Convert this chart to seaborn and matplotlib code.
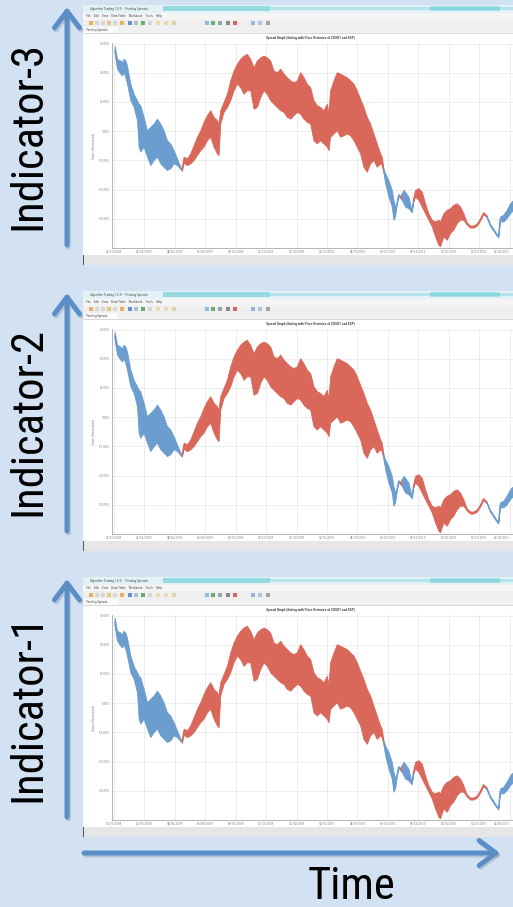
import matplotlib
matplotlib.use("Agg")
import matplotlib.pyplot as plt
from matplotlib.patches import Rectangle, FancyArrowPatch
import numpy as np
import seaborn as sns

W, H = 513, 907
BG = "#d3e2f2"
ARROW = "#5b8ec7"
COLORS = {"R": "#d9685a", "B": "#6b9dcf"}

PANEL_LABELS = ["Indicator-3", "Indicator-2", "Indicator-1"]
PANEL_OFFSETS = [0, 286, 572]

# spread band (days, % of normalized value)
DAY = [1.5, 5, 10, 12.5, 15, 17.5, 20, 25, 30, 35, 37.5, 40, 45, 50, 55, 60, 65, 70, 75, 80, 85, 90, 95, 100,
       102.5, 105, 110, 115, 120, 125, 130, 135, 140, 145, 150, 155, 157.5, 160, 165, 170, 175, 180, 185, 190,
       195, 200, 205, 210, 215, 220, 225, 230, 235, 240, 245, 250, 255, 260, 265, 270, 275, 280, 285, 290, 295,
       300, 305, 310, 315, 320, 322.5, 325, 330, 335, 340, 345, 350, 355, 360, 365, 370, 375, 380, 385, 390, 395,
       400, 402.5,
       405, 407.5, 412.5, 417.5, 420, 422.5, 425, 427.5,
       430,
       432.5, 435, 437.5, 442.5, 447.5,
       450, 452.5, 457.5, 462.5, 467.5, 472.5, 477.5, 482.5, 487.5, 490, 495, 500, 505, 510, 515, 520, 525, 530,
       535, 540, 545, 550, 555,
       560, 565, 570, 575, 577.5, 580, 585, 590, 595, 600]
UPPER = [29.3, 24.8, 24.2, 23.6, 24.8, 24.2, 22.5, 16.3, 12.8, 10.6, 9.4, 8.9, 4.9, 0.3, 1.5, 2.6, 4.3, 2.6, 0.3,
         -3.1, -4.2, -6.5, -9.3, -12.0,
         -13.0, -8.7, -9.3, -7.6, -4.8, -1.9, 0.3, 3.2, 5.5, 7.2, 4.9, 3.8, 2.6, 7.2, 10.0, 12.8, 17.4, 20.8, 23.1,
         24.8, 25.9, 26.5, 24.8, 21.9, 24.2, 25.3, 25.9, 25.3, 24.2, 20.8, 20.2, 21.4, 19.7, 18.5, 17.4, 16.8, 17.4,
         20.2, 18.5, 16.3, 15.1, 10.6, 8.9, 8.3, 7.2, 9.4, 6.6, 14.0, 17.4, 20.2, 19.7, 19.1, 18.5, 17.4, 16.3, 14.0,
         11.1, 8.3, 4.9, 2.6, -0.8, -4.2, -7.6, -8.7,
         -12.7, -14.4, -16.7, -20.1, -23.5, -25.8, -24.4, -21.5,
         -22.2,
         -21.2, -20.1, -20.7, -22.4, -27.2,
         -23.2, -20.1, -19.5, -20.7, -24.7, -28.1, -30.3, -30.9, -30.3, -30.9, -28.1, -26.9, -26.4, -25.2, -24.7,
         -25.8, -28.1, -31.2, -32.3, -32.3, -31.7, -30.0, -27.7,
         -28.9, -31.7, -33.4, -35.2, -35.7, -29.2, -28.6, -26.9, -24.7, -23.5]
LOWER = [26.5, 21.4, 19.7, 19.1, 20.2, 18.5, 16.3, 10.6, 8.3, 3.8, -5.3, -7.0, -5.3, -8.7, -11.6, -9.9, -8.7, -11.0,
         -12.2, -13.3, -12.7, -11.0, -11.6, -12.9,
         -13.5, -10.8, -11.6, -11.0, -9.9, -8.2, -6.5, -5.3, -3.1, -1.9, -5.3, -7.6, -8.2, 2.6, 6.6, 8.3, 10.6, 14.0,
         16.3, 15.1, 12.8, 14.0, 14.0, 7.7, 8.3, 11.7, 14.0, 12.8, 10.6, 9.4, 8.3, 7.2, 6.6, 4.9, 4.3, 5.5, 6.6, 6.0,
         4.3, 3.2, 2.6, -3.1, -4.2, -3.1, -4.2, -5.3, -6.5, -1.9, -0.8, 0.3, -1.9, -1.4, -0.8, -1.4, -3.1, -5.3, -7.6,
         -12.2, -13.9, -11.0, -9.9, -12.2, -11.0, -11.6,
         -13.9, -17.8, -22.4, -25.8, -30.3, -29.2, -25.1, -22.4,
         -22.8,
         -23.5, -24.7, -25.8, -26.4, -27.8,
         -23.9, -22.4, -23.5, -25.8, -28.1, -30.3, -32.6, -36.0, -38.9, -39.4, -36.0, -37.2, -34.9, -33.7, -31.5,
         -30.3, -30.3, -31.9, -33.0, -33.0, -32.4, -30.7, -28.4,
         -29.5, -32.4, -34.1, -35.8, -36.4, -30.9, -30.9, -29.8, -28.1, -26.9]
SIGNAL = ["B"] * 24 + ["R"] * 64 + ["B"] * 8 + ["R"] * 1 + ["B"] * 5 + ["R"] * 23 + ["B"] * 10

YTICK_LABELS = ["-30.00%", "-20.00%", "-10.00%", "0.00%", "10.00%", "20.00%", "30.00%"]
XTICK_LABELS = ["12/01/2008", "02/03/2009", "04/06/2009", "06/08/2009", "08/10/2009", "10/12/2009",
                "12/14/2009", "02/15/2010", "04/19/2010", "06/21/2010", "08/23/2010", "10/25/2010",
                "12/27/2010", "02/28/2011"]
MENU = "File    Edit    View    Data Table    Workbook    Tools    Help"

sns.set_style("whitegrid")
plt.rcParams["font.family"] = ["Roboto Condensed", "DejaVu Sans"]

fig = plt.figure(figsize=(W / 100, H / 100), dpi=100, facecolor=BG)


def fx(x):
    return x / W


def fy(y):
    return 1 - y / H


def rect(x0, y0, x1, y1, color, alpha=1.0, z=-2):
    fig.add_artist(Rectangle((fx(x0), fy(y1)), (x1 - x0) / W, (y1 - y0) / H, transform=fig.transFigure,
                             facecolor=color, edgecolor="none", alpha=alpha, zorder=z))


def arrow(x0, y0, x1, y1):
    for dx, dy, c, a in [(1.5, 2.0, "#6f7f90", 0.3), (0, 0, ARROW, 1.0)]:
        fig.add_artist(FancyArrowPatch((fx(x0 + dx), fy(y0 + dy)), (fx(x1 + dx), fy(y1 + dy)),
                                       transform=fig.transFigure, arrowstyle="->,head_length=0.6,head_width=0.45",
                                       mutation_scale=20, lw=3.6, color=c, alpha=a, shrinkA=0, shrinkB=0,
                                       zorder=3))


def runs(signal):
    start = 0
    for j in range(1, len(signal) + 1):
        if j == len(signal) or signal[j] != signal[start]:
            yield start, min(j, len(signal) - 1), signal[start]
            start = j


day = np.array(DAY)
up = np.array(UPPER)
low = np.array(LOWER)
mid = (up + low) / 2

for label, off in zip(PANEL_LABELS, PANEL_OFFSETS):
    # window chrome
    rect(83, 5 + off, 513, 265 + off, "#f5f5f5")
    rect(83, 5 + off, 513, 13 + off, "#e2f2f5")
    rect(163, 6 + off, 270, 11 + off, "#4cc3cf", 0.5)
    rect(270, 7 + off, 513, 10 + off, "#8fd9e0", 0.55)
    rect(430, 6 + off, 500, 11 + off, "#4cc3cf", 0.4)
    fig.text(fx(90), fy(9 + off), "Algorithm Trading 1.0.0  -  Pending Spreads", fontsize=2.4, color="#555555",
             va="center")
    fig.text(fx(86), fy(16 + off), MENU, fontsize=2.4, color="#555555", va="center")
    rect(83, 19 + off, 513, 27 + off, "#efefef")
    for ix, ic in [(89, "#e8a23a"), (95, "#d0d0d0"), (101, "#d0d0d0"), (107, "#d8c070"), (113, "#d0d0d0"),
                   (120, "#e8a23a"), (128, "#4a78c0"), (134, "#9ab0d0"), (141, "#3fa34d"), (148, "#d0d0d0"),
                   (156, "#e8d8a0"), (164, "#e8d8a0"), (172, "#e0c890"), (205, "#7fa7d9"), (211, "#3fa34d"),
                   (218, "#8090a0"), (226, "#707070"), (233, "#d04040"), (251, "#7fa7d9"), (258, "#a0b8d8"),
                   (266, "#909090")]:
        rect(ix, 21 + off, ix + 4, 25 + off, ic, 0.8, z=-1)
    rect(83, 27 + off, 513, 33 + off, "#f0f0f0")
    rect(84, 27 + off, 118, 33 + off, "#fbfbfb", z=-1)
    fig.text(fx(86), fy(30 + off), "Pending Spreads", fontsize=2.3, color="#555555", va="center")
    rect(83, 33 + off, 513, 255 + off, "#ffffff")
    rect(83, 33 + off, 513, 34 + off, "#d8d8d8", z=-1)
    fig.text(fx(310), fy(38 + off), "Spread Graph (Ending with Price Histories of CUSO1 and ESP)", fontsize=2.6,
             color="#444444", ha="center", va="center", weight="bold")
    rect(83, 255 + off, 513, 265 + off, "#e6e6e6")
    rect(83, 255 + off, 84, 265 + off, "#555555", z=-1)

    # spread band
    ax = fig.add_axes([fx(112), fy(248 + off), (513 - 112) / W, (248 - 43) / H])
    ax.set_facecolor("white")
    for i0, i1, code in runs(SIGNAL):
        sl = slice(i0, i1 + 1)
        ax.fill_between(day[sl], low[sl], up[sl], color=COLORS[code], lw=0.6, edgecolor=COLORS[code], zorder=2)
        sns.lineplot(x=day[sl], y=mid[sl], ax=ax, color=COLORS[code], lw=0.7, estimator=None, sort=False,
                     legend=False, zorder=2)
    ax.set_xlim(-2.5, 599.5)
    ax.set_ylim(-40, 30.2)
    ax.set_xticks(np.arange(0, 600, 45.75))
    ax.set_xticklabels(XTICK_LABELS)
    ax.get_xticklabels()[-1].set_ha("right")
    ax.set_yticks([-30, -20, -10, 0, 10, 20, 30])
    ax.set_yticklabels(YTICK_LABELS)
    ax.grid(color="#e6e6e6", lw=0.5)
    ax.tick_params(labelsize=2.5, colors="#8a8a8a", length=0, pad=1.5)
    ax.set_ylabel("Value (Normalized)", fontsize=2.5, color="#8a8a8a", labelpad=3)
    ax.set_xlabel("")
    for s in ["top", "right"]:
        ax.spines[s].set_visible(False)
    for s in ["left", "bottom"]:
        ax.spines[s].set_color("#a8a8a8")
        ax.spines[s].set_linewidth(0.6)

    # indicator arrow and label
    arrow(67, 245 + off, 67, 7 + off)
    fig.text(fx(28), fy(136 + off), label, rotation=90, fontsize=32, color="black", ha="center", va="center")

arrow(84, 853, 500, 853)
fig.text(fx(352), fy(887), "Time", fontsize=32, color="black", ha="center", va="center")

fig.savefig("out.png", dpi=100, facecolor=BG)
